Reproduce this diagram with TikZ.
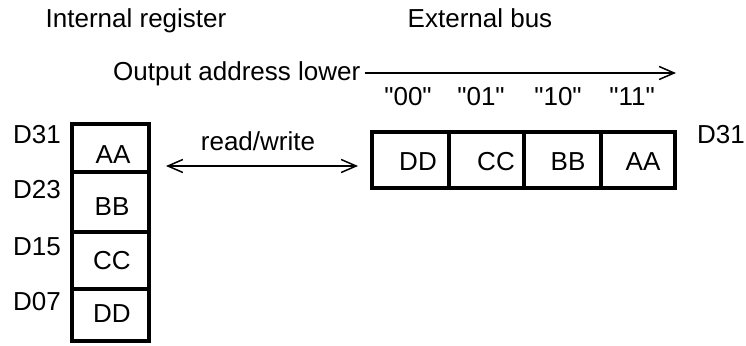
\documentclass[tikz,border=0pt]{standalone}
\usepackage{fontspec}
\setmainfont{Liberation Sans}
\usetikzlibrary{arrows.meta}
\begin{document}
\begin{tikzpicture}[x=1pt,y=-1pt,
  txt/.style={inner sep=0pt,anchor=base,font=\fontsize{26}{30}\selectfont},
  box/.style={line width=3.2pt},
  conn/.style={line width=1.5pt,-{Straight Barb[length=15pt,width=13pt,line width=1.5pt]}},
  dconn/.style={line width=1.5pt,{Straight Barb[length=15pt,width=13pt,line width=1.5pt]}-{Straight Barb[length=15pt,width=13pt,line width=1.5pt]}}]
\useasboundingbox (0,0) rectangle (746,345);
% headers
\node[txt] (hint) at (136,28) {Internal register};
\node[txt] (hext) at (480,28) {External bus};
% output address arrow
\node[txt,anchor=base west] (oal) at (113,80) {Output address lower};
\coordinate (oalend) at (676,73);
\draw[conn] (oal.east |- oalend) ++(4,0) -- (oalend);
% address labels
\node[txt] (a00) at (408,105) {\textquotedbl 00\textquotedbl};
\node[txt] (a01) at (481,105) {\textquotedbl 01\textquotedbl};
\node[txt] (a10) at (558,105) {\textquotedbl 10\textquotedbl};
\node[txt] (a11) at (632,105) {\textquotedbl 11\textquotedbl};
% internal register cells
\draw[box] (72,124) rectangle (149,172);
\draw[box] (72,172) rectangle (149,232);
\draw[box] (72,232) rectangle (149,289);
\draw[box] (72,289) rectangle (149,341);
\node[txt] (iaa) at (113,163) {AA};
\node[txt] (ibb) at (112,215) {BB};
\node[txt] (icc) at (112,269) {CC};
\node[txt] (idd) at (112,322) {DD};
\node[txt] (d31) at (37,143) {D31};
\node[txt] (d23) at (37,198) {D23};
\node[txt] (d15) at (37,255) {D15};
\node[txt] (d07) at (37,310) {D07};
% external bus cells
\draw[box] (372,132) rectangle (449,188);
\draw[box] (449,132) rectangle (524,188);
\draw[box] (524,132) rectangle (601,188);
\draw[box] (601,132) rectangle (675,188);
\node[txt] (edd) at (418,170) {DD};
\node[txt] (ecc) at (496,170) {CC};
\node[txt] (ebb) at (568,170) {BB};
\node[txt] (eaa) at (643,170) {AA};
\node[txt] (ed31) at (721,143) {D31};
% read/write
\node[txt] (rw) at (258,150) {read/write};
\coordinate (rwl) at (166,166);
\coordinate (rwr) at (358,166);
\draw[dconn] (rwl) -- (rwr);
\end{tikzpicture}
\end{document}
